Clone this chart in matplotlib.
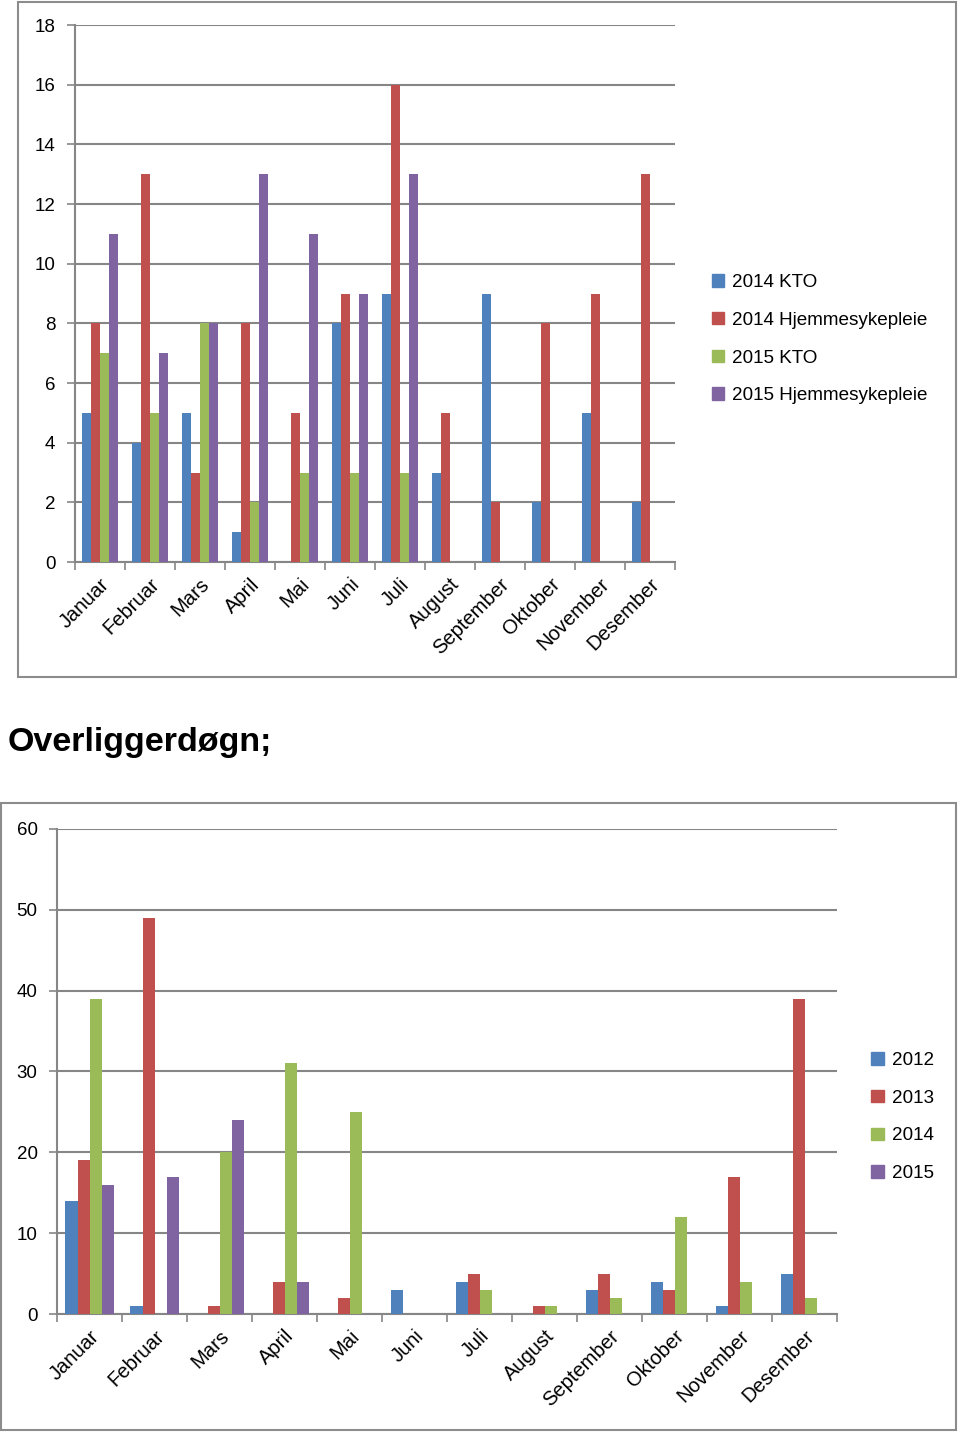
import numpy as np
import matplotlib
matplotlib.use('Agg')
from matplotlib import pyplot as plt
from matplotlib.patches import Rectangle, Patch

plt.rcParams['font.family'] = ['Liberation Sans', 'DejaVu Sans']

# month names used on both charts
months = ['Januar', 'Februar', 'Mars', 'April', 'Mai', 'Juni', 'Juli',
          'August', 'September', 'Oktober', 'November', 'Desember']

# top chart series
top_labels = ['2014 KTO', '2014 Hjemmesykepleie', '2015 KTO', '2015 Hjemmesykepleie']
kto_2014 = [5, 4, 5, 1, 0, 8, 9, 3, 9, 2, 5, 2]
hjem_2014 = [8, 13, 3, 8, 5, 9, 16, 5, 2, 8, 9, 13]
kto_2015 = [7, 5, 8, 2, 3, 3, 3, 0, 0, 0, 0, 0]
hjem_2015 = [11, 7, 8, 13, 11, 9, 13, 0, 0, 0, 0, 0]

# bottom chart series (Overliggerdøgn)
bottom_labels = ['2012', '2013', '2014', '2015']
over_2012 = [14, 1, 0, 0, 0, 3, 4, 0, 3, 4, 1, 5]
over_2013 = [19, 49, 1, 4, 2, 0, 5, 1, 5, 3, 17, 39]
over_2014 = [39, 0, 20, 31, 25, 0, 3, 1, 2, 12, 4, 2]
over_2015 = [16, 17, 24, 4, 0, 0, 0, 0, 0, 0, 0, 0]

colors = ['#4F81BD', '#C0504D', '#9BBB59', '#8064A2']
grid_col = '#868686'

fig = plt.figure(figsize=(9.6, 14.32), dpi=100)

# gray frames around the two charts
fig.patches.append(Rectangle((0.0188, 0.5272), 0.977, 0.4714, transform=fig.transFigure,
                             fill=False, edgecolor='#8c8c8c', linewidth=1.5))
fig.patches.append(Rectangle((0.0012, 0.0014), 0.9946, 0.4378, transform=fig.transFigure,
                             fill=False, edgecolor='#8c8c8c', linewidth=1.5))


def bar_chart(ax, series, labels, ymax, ystep, width, leg_anchor):
    x = np.arange(len(months))
    for i, (vals, lab) in enumerate(zip(series, labels)):
        ax.bar(x + (i - 1.5) * width, vals, width, color=colors[i], label=lab, zorder=3)
    ax.set_xlim(-0.5, len(months) - 0.5)
    ax.set_ylim(0, ymax)
    ax.set_yticks(np.arange(0, ymax + 1, ystep))
    ax.yaxis.grid(True, color=grid_col, linewidth=1.5, zorder=0)
    ax.set_xticks(x)
    ax.set_xticklabels(months, rotation=45, ha='right', rotation_mode='anchor', fontsize=14.5)
    ax.set_xticks(np.arange(-0.5, len(months)), minor=True)
    ax.tick_params(axis='x', which='major', length=0, pad=9)
    ax.tick_params(axis='x', which='minor', length=6, color=grid_col, width=1.2)
    ax.tick_params(axis='y', length=6, color=grid_col, width=1.2, labelsize=13.5, pad=8)
    for s in ['top', 'right']:
        ax.spines[s].set_visible(False)
    for s in ['left', 'bottom']:
        ax.spines[s].set_color(grid_col)
        ax.spines[s].set_linewidth(1.5)
    handles = [Patch(color=c) for c in colors]
    ax.legend(handles, labels, loc='center left', bbox_to_anchor=leg_anchor, frameon=False,
              fontsize=13.6, handlelength=0.65, handleheight=0.65, handletextpad=0.45,
              labelspacing=1.1)


ax1 = fig.add_axes([0.078, 0.6075, 0.625, 0.375])
bar_chart(ax1, [kto_2014, hjem_2014, kto_2015, hjem_2015], top_labels, 18, 2, 0.18, (1.033, 0.415))

fig.text(0.008, 0.4818, 'Overliggerdøgn;', fontsize=24.5, fontweight='bold', va='center')

ax2 = fig.add_axes([0.0594, 0.0824, 0.8126, 0.3387])
bar_chart(ax2, [over_2012, over_2013, over_2014, over_2015], bottom_labels, 60, 10, 0.185, (1.022, 0.406))

fig.savefig('out.png', dpi=100)
